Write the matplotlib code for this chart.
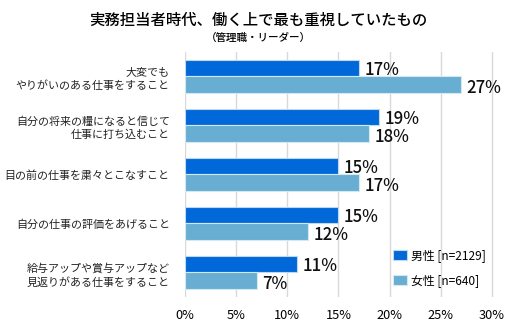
import matplotlib
matplotlib.use("Agg")
import matplotlib.pyplot as plt
import numpy as np

plt.rcParams['font.family'] = ['Noto Sans CJK JP', 'DejaVu Sans']

categories = ["大変でも\nやりがいのある仕事をすること",
              "自分の将来の糧になると信じて\n仕事に打ち込むこと",
              "目の前の仕事を粛々とこなすこと",
              "自分の仕事の評価をあげること",
              "給与アップや賞与アップなど\n見返りがある仕事をすること"]
male = [17, 19, 15, 15, 11]
female = [27, 18, 17, 12, 7]
series_names = ["男性 [n=2129]", "女性 [n=640]"]
ticks = [0, 5, 10, 15, 20, 25, 30]
tick_labels = ["0%", "5%", "10%", "15%", "20%", "25%", "30%"]

c_male = "#0068D8"
c_female = "#68AED2"

fig = plt.figure(figsize=(5.16, 3.27), dpi=100)
ax = fig.add_axes([0.3585, 0.092, 0.5985, 0.749])

y = np.arange(len(categories))
h = 0.345
ax.barh(y - h/2, male, height=h, color=c_male, edgecolor="#BFD8F0", linewidth=0.8, label=series_names[0], zorder=3)
ax.barh(y + h/2, female, height=h, color=c_female, edgecolor="#D5E8F2", linewidth=0.8, label=series_names[1], zorder=3)

vlabels = []
for i, (m, f) in enumerate(zip(male, female)):
    vlabels.append(ax.text(m + 0.55, i - h/2 + 0.05, f"{m}%", va="center", ha="left", fontsize=12, fontweight="medium", color="#111111"))
    vlabels.append(ax.text(f + 0.55, i + h/2 + 0.07, f"{f}%", va="center", ha="left", fontsize=12, fontweight="medium", color="#111111"))

ax.set_xlim(0, 30.2)
ax.set_ylim(len(categories) - 0.5, -0.5)
ax.set_xticks(ticks)
xlabels = ax.set_xticklabels(tick_labels, fontsize=9.5)
ax.set_yticks(y)
ylabels = ax.set_yticklabels(categories, fontsize=8, linespacing=1.4, color="#222222")
ax.tick_params(axis='both', length=0)
ax.tick_params(axis='y', pad=11)
ax.tick_params(axis='x', pad=9)
ax.grid(axis='x', color="#D9D9D9", linewidth=1, zorder=0)
for s in ax.spines.values():
    s.set_visible(False)

title = fig.text(0.5, 0.939, "実務担当者時代、働く上で最も重視していたもの", ha="center", va="center", fontsize=11.2, fontweight="medium")
subtitle = fig.text(0.5, 0.885, "（管理職・リーダー）", ha="center", va="center", fontsize=8.5, fontweight="medium")

fig.canvas.draw()
r = fig.canvas.get_renderer()

def fitted(artist, target):
    w = artist.get_window_extent(r).width
    return artist.get_fontsize() * target / w

fs_y = fitted(ylabels[2], 165.0)
for t in ax.get_yticklabels():
    t.set_fontsize(fs_y)
fs_x = fitted(xlabels[-1], 26.0)
for t in ax.get_xticklabels():
    t.set_fontsize(fs_x)
fs_v = fitted(vlabels[1], 35.0)
for t in vlabels:
    t.set_fontsize(fs_v)
title.set_fontsize(fitted(title, 337.0))

tmp = fig.text(0, 0, "管理職・リーダー", fontsize=8.5, fontweight="medium")
subtitle.set_fontsize(fitted(tmp, 84.0))
tmp.remove()

tmp = fig.text(0, 0, series_names[0], fontsize=9)
fs_l = fitted(tmp, 75.0)
tmp.remove()

leg = ax.legend(loc="upper left", bbox_to_anchor=(393/516, 1 - 249/327), bbox_transform=fig.transFigure,
                frameon=False, fontsize=fs_l, borderpad=0, borderaxespad=0,
                handlelength=1.15, handleheight=1.0, labelspacing=1.0, handletextpad=0.35)

fig.savefig("out.png", dpi=100)
